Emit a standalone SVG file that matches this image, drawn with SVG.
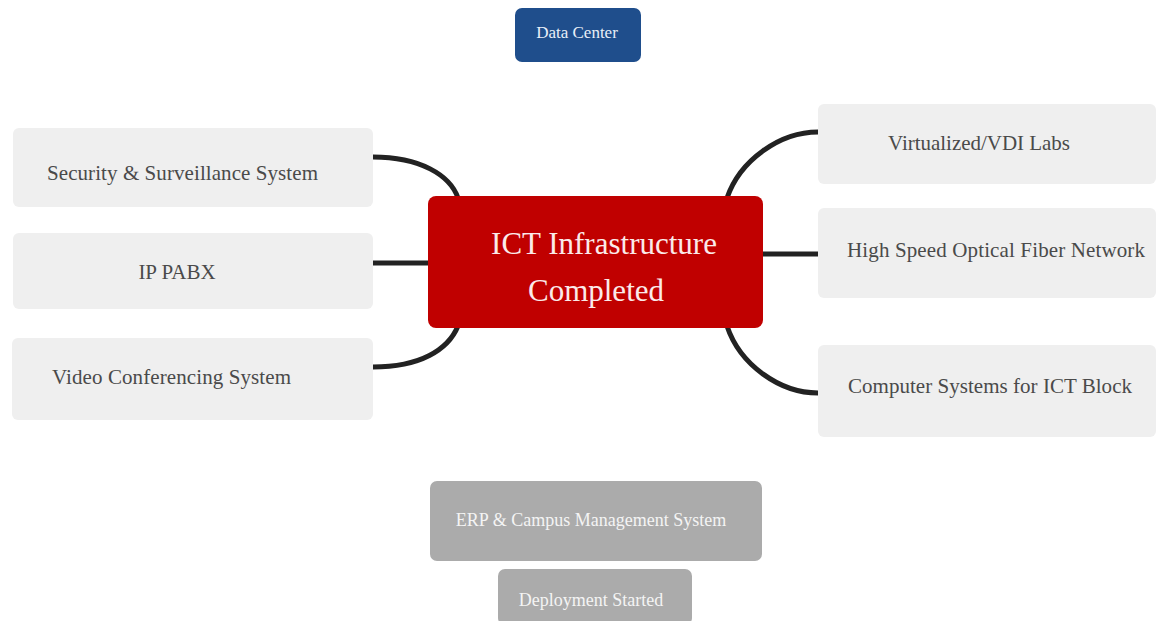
<svg xmlns="http://www.w3.org/2000/svg" width="1156" height="621" viewBox="0 0 1156 621">
<style>
.leaf{fill:#efefef;}
.lt{font-family:"Liberation Serif","Times New Roman",serif;font-size:21px;fill:#4a4a4a;}
.conn{fill:none;stroke:#222;stroke-width:5;stroke-linecap:butt;}
.gray{fill:#ababab;}
.gt{font-family:"Liberation Serif","Times New Roman",serif;font-size:18px;fill:#f4f4f4;text-anchor:middle;}
</style>
<rect width="1156" height="621" fill="#ffffff"/>
<g id="connectors">
<path class="conn" d="M373,157 C420,157 450,175 458,198"/>
<path class="conn" d="M373,263 L430,263"/>
<path class="conn" d="M458,326 C448,350 420,367 373,367"/>
<path class="conn" d="M727,198 C740,160 780,132 818,132"/>
<path class="conn" d="M761,254 L818,254"/>
<path class="conn" d="M727,326 C740,365 780,393 818,393"/>
</g>
<g id="data-center">
<rect x="515" y="8" width="126" height="54" rx="7" fill="#1f4e8c"/>
<text x="577" y="38" font-family="Liberation Serif, serif" font-size="17" fill="#e8eef8" text-anchor="middle">Data Center</text>
</g>
<g id="security">
<rect class="leaf" x="13" y="128" width="360" height="79" rx="6"/>
<text class="lt" x="47" y="180" textLength="271">Security &amp; Surveillance  System</text>
</g>
<g id="ip-pabx">
<rect class="leaf" x="13" y="233" width="360" height="76" rx="6"/>
<text class="lt" x="177" y="279" text-anchor="middle">IP PABX</text>
</g>
<g id="video">
<rect class="leaf" x="12" y="338" width="361" height="82" rx="6"/>
<text class="lt" x="52" y="384" textLength="239">Video Conferencing System</text>
</g>
<g id="center">
<rect x="428" y="196" width="335" height="132" rx="8" fill="#c00000"/>
<text x="604" y="254" font-family="Liberation Serif, serif" font-size="31" fill="#fbeaea" text-anchor="middle">ICT Infrastructure</text>
<text x="596" y="301" font-family="Liberation Serif, serif" font-size="31" fill="#fbeaea" text-anchor="middle">Completed</text>
</g>
<g id="vdi">
<rect class="leaf" x="818" y="104" width="338" height="80" rx="6"/>
<text class="lt" x="888" y="150" textLength="182">Virtualized/VDI  Labs</text>
</g>
<g id="fiber">
<rect class="leaf" x="818" y="208" width="338" height="90" rx="6"/>
<text class="lt" x="847" y="257" textLength="298">High  Speed Optical  Fiber Network</text>
</g>
<g id="computers">
<rect class="leaf" x="818" y="345" width="338" height="92" rx="6"/>
<text class="lt" x="848" y="393" textLength="284">Computer  Systems  for ICT  Block</text>
</g>
<g id="erp">
<rect class="gray" x="430" y="481" width="332" height="80" rx="7"/>
<text class="gt" x="591" y="526">ERP &amp; Campus Management System</text>
</g>
<g id="deployment">
<rect class="gray" x="498" y="569" width="194" height="56" rx="7"/>
<text class="gt" x="591" y="606">Deployment  Started</text>
</g>
</svg>
